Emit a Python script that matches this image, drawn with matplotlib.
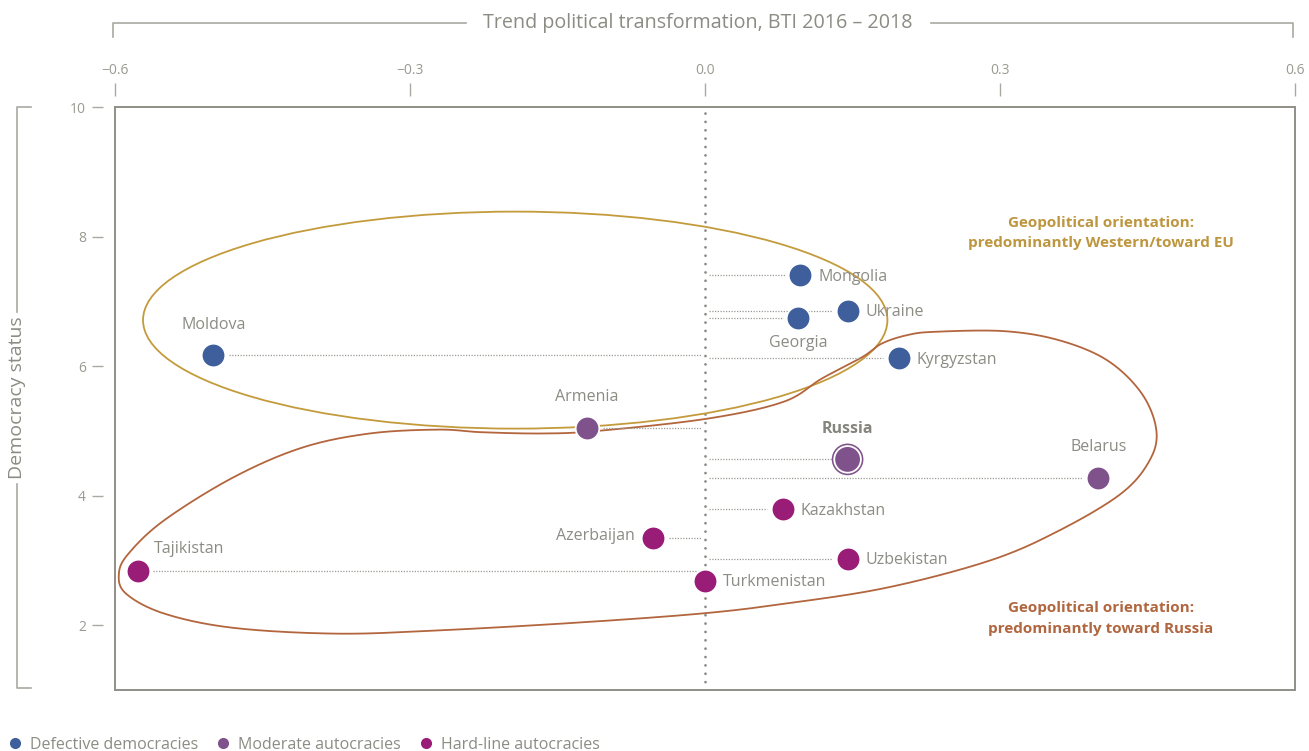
import matplotlib
matplotlib.use("Agg")
import matplotlib.pyplot as plt
import numpy as np
from matplotlib.lines import Line2D
from matplotlib.patches import Ellipse, Rectangle

plt.rcParams['font.family'] = ['Open Sans', 'DejaVu Sans']

# ---------------- data ----------------
countries = ["Moldova", "Mongolia", "Ukraine", "Georgia", "Kyrgyzstan", "Armenia",
             "Russia", "Belarus", "Kazakhstan", "Azerbaijan", "Tajikistan",
             "Turkmenistan", "Uzbekistan"]
trend = [-0.50, 0.097, 0.145, 0.095, 0.197, -0.12,
         0.145, 0.40, 0.079, -0.053, -0.577,
         0.0, 0.145]
democracy = [6.17, 7.40, 6.85, 6.74, 6.12, 5.05,
             4.56, 4.28, 3.79, 3.35, 2.83,
             2.69, 3.03]
regime = ["defective", "defective", "defective", "defective", "defective", "moderate",
          "moderate", "moderate", "hardline", "hardline", "hardline",
          "hardline", "hardline"]
label_pos = ["above", "right", "right", "below", "right", "above",
             "above", "above", "right", "left", "aboveright",
             "right", "right"]

regime_names = {"defective": "Defective democracies",
                "moderate": "Moderate autocracies",
                "hardline": "Hard-line autocracies"}
regime_colors = {"defective": "#3e5f9c", "moderate": "#80528b", "hardline": "#991c77"}

x_ticks = [-0.6, -0.3, 0.0, 0.3, 0.6]
x_tick_labels = ["\u22120.6", "\u22120.3", "0.0", "0.3", "0.6"]
y_ticks = [2, 4, 6, 8, 10]

# outline of the "toward Russia" group (data units)
russia_outline_x = [-0.109, 0.003, 0.080, 0.119, 0.160, 0.180, 0.206, 0.234, 0.304,
                    0.360, 0.409, 0.444, 0.459, 0.452, 0.423, 0.360, 0.290, 0.185,
                    0.080, -0.004, -0.130, -0.271, -0.375, -0.480, -0.550, -0.589,
                    -0.596, -0.586, -0.550, -0.480, -0.410, -0.341, -0.271, -0.228,
                    -0.165]
russia_outline_y = [5.00, 5.19, 5.45, 5.81, 6.14, 6.35, 6.48, 6.53, 6.54,
                    6.40, 6.09, 5.58, 5.01, 4.54, 4.03, 3.46, 3.00, 2.58,
                    2.33, 2.18, 2.04, 1.92, 1.87, 1.96, 2.18, 2.49,
                    2.80, 3.11, 3.62, 4.28, 4.74, 4.96, 5.02, 4.98,
                    4.96]
# ellipse of the "Western/EU" group (data units)
west_center = (-0.193, 6.71)
west_width = 0.757
west_height = 3.35

# ---------------- style ----------------
W, H = 1309, 751
PT = 0.72  # points per pixel at 100 dpi
grey_text = "#8c8c84"
frame_col = "#8f8f88"
yellow = "#c49b3c"
brown = "#b3653d"

fig = plt.figure(figsize=(W / 100, H / 100), dpi=100)
fig.patch.set_facecolor("white")

def fx(px):
    return px / W

def fy(py):
    return 1 - py / H

ax = fig.add_axes([fx(115), fy(690), (1295 - 115) / W, (690 - 107) / H])
ax.set_xlim(-0.6, 0.6)
ax.set_ylim(1.0, 10.0)

# frame
for s in ["bottom", "right"]:
    ax.spines[s].set_visible(False)
ax.spines["top"].set_position(("outward", 11 * PT))
ax.spines["left"].set_position(("outward", 12 * PT))
ax.spines["top"].set_color("none")
ax.spines["left"].set_color("none")
ax.add_patch(Rectangle((0, 0), 1, 1, transform=ax.transAxes, fill=False,
                       ec=frame_col, lw=1.4, clip_on=False, zorder=5))

ax.xaxis.tick_top()
ax.set_xticks(x_ticks)
ax.set_xticklabels(x_tick_labels)
ax.set_yticks(y_ticks)
ax.set_yticklabels([str(v) for v in y_ticks])
ax.tick_params(axis="x", length=13 * PT, width=1.0, color="#a9a9a2", pad=5 * PT,
               labelsize=10, labelcolor="#9a9a92")
ax.tick_params(axis="y", length=11 * PT, width=1.0, color="#a9a9a2", pad=6 * PT,
               labelsize=10, labelcolor="#9a9a92")

# vertical dotted zero line
ax.axvline(0.0, color="#8a8a84", lw=2.0, linestyle=(0, (0.01, 3.0)),
           dash_capstyle="round", zorder=1)

# group outlines
ax.add_patch(Ellipse(west_center, west_width, west_height, fill=False,
                     ec=yellow, lw=1.3, zorder=2))

def catmull_closed(xs, ys, n=30):
    pts = np.column_stack([xs, ys])
    m = len(pts)
    out = []
    for i in range(m):
        p0, p1, p2, p3 = pts[(i - 1) % m], pts[i], pts[(i + 1) % m], pts[(i + 2) % m]
        for t in np.linspace(0, 1, n, endpoint=False):
            t2, t3 = t * t, t * t * t
            out.append(0.5 * ((2 * p1) + (-p0 + p2) * t +
                              (2 * p0 - 5 * p1 + 4 * p2 - p3) * t2 +
                              (-p0 + 3 * p1 - 3 * p2 + p3) * t3))
    out.append(out[0])
    return np.array(out)

curve = catmull_closed(russia_outline_x, russia_outline_y)
ax.plot(curve[:, 0], curve[:, 1], color=brown, lw=1.3, zorder=2)

# connector lines from zero to each point
gap_x = 0.016
for xv, yv in zip(trend, democracy):
    if abs(xv) < 0.01:
        continue
    if xv > 0:
        x0, x1 = 0.004, xv - gap_x
    else:
        x0, x1 = xv + gap_x, -0.004
    ax.plot([x0, x1], [yv, yv], color="#9a9a94", lw=0.9,
            linestyle=(0, (1, 1.2)), zorder=2)

# points
for name, xv, yv, rg in zip(countries, trend, democracy, regime):
    c = regime_colors[rg]
    if name == "Russia":
        ax.scatter([xv], [yv], s=520, color=c, edgecolor="none", zorder=4)
        ax.scatter([xv], [yv], s=420, color="white", edgecolor="none", zorder=4)
        ax.scatter([xv], [yv], s=320, color=c, edgecolor="none", zorder=4)
    else:
        ax.scatter([xv], [yv], s=290, color=c, edgecolor="white", lw=1.3, zorder=4)

# labels (offsets in points)
for name, xv, yv, pos in zip(countries, trend, democracy, label_pos):
    kw = dict(fontsize=11.5, color=grey_text, zorder=6)
    if name == "Russia":
        kw.update(fontweight="bold", color="#85857d")
    if pos == "above":
        off, ha, va = (0, 22), "center", "center"
    elif pos == "below":
        off, ha, va = (0, -18), "center", "center"
    elif pos == "right":
        off, ha, va = (13, -1), "left", "center"
    elif pos == "left":
        off, ha, va = (-13, 1), "right", "center"
    else:
        off, ha, va = (12, 16), "left", "center"
    ax.annotate(name, (xv, yv), xytext=off, textcoords="offset points",
                ha=ha, va=va, **kw)

# group captions
fig.text(fx(1101), fy(233), "Geopolitical orientation:\npredominantly Western/toward EU",
         ha="center", va="center", fontsize=11, fontweight="bold", color="#bd963f",
         linespacing=1.6)
fig.text(fx(1101), fy(618.5), "Geopolitical orientation:\npredominantly toward Russia",
         ha="center", va="center", fontsize=11, fontweight="bold", color="#b0663f",
         linespacing=1.6)

# axis title brackets
bk = "#a9a9a2"
fig.add_artist(Line2D([fx(113), fx(113), fx(466)], [fy(37), fy(23), fy(23)],
                      color=bk, lw=1.2))
fig.add_artist(Line2D([fx(931), fx(1293), fx(1293)], [fy(23), fy(23), fy(37)],
                      color=bk, lw=1.2))
fig.text(fx(698), fy(23), "Trend political transformation, BTI 2016 \u2013 2018",
         ha="center", va="center", fontsize=14.2, color=grey_text)

fig.add_artist(Line2D([fx(31), fx(17), fx(17)], [fy(107), fy(107), fy(312)],
                      color=bk, lw=1.2))
fig.add_artist(Line2D([fx(17), fx(17), fx(31)], [fy(484), fy(688), fy(688)],
                      color=bk, lw=1.2))
fig.text(fx(17), fy(398), "Democracy status", rotation=90,
         ha="center", va="center", fontsize=14, color=grey_text)

# legend
handles = [Line2D([], [], marker="o", linestyle="none", markersize=8,
                  markerfacecolor=regime_colors[k], markeredgecolor="none",
                  label=regime_names[k]) for k in ["defective", "moderate", "hardline"]]
fig.legend(handles=handles, loc="center left", bbox_to_anchor=(fx(8.6), fy(745)),
           ncol=3, frameon=False, fontsize=11.5, labelcolor=grey_text,
           handlelength=0.8, handletextpad=0.54, columnspacing=1.16,
           borderpad=0, borderaxespad=0)

fig.savefig("out.png", dpi=100, facecolor="white")
